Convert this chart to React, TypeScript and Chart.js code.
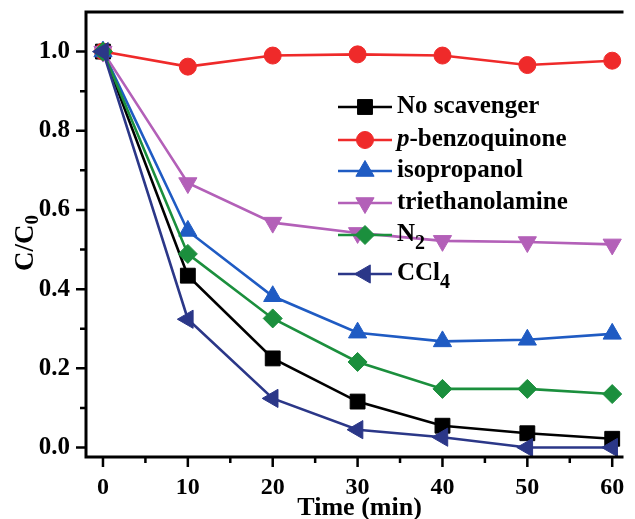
import { useEffect, useRef } from 'react';
import { Chart, registerables } from 'chart.js';
import { drawPoint } from 'chart.js/helpers';

Chart.register(...registerables);

// ---- data ----
const times = [0, 10, 20, 30, 40, 50, 60];
const noScavenger = [1.0, 0.434, 0.225, 0.116, 0.055, 0.036, 0.022];
const benzoquinone = [1.0, 0.962, 0.99, 0.993, 0.99, 0.966, 0.977];
const isopropanol = [1.0, 0.547, 0.382, 0.29, 0.268, 0.272, 0.287];
const triethanolamine = [1.0, 0.668, 0.568, 0.542, 0.522, 0.519, 0.513];
const nitrogen = [1.0, 0.489, 0.326, 0.216, 0.148, 0.148, 0.135];
const ccl4 = [1.0, 0.324, 0.124, 0.045, 0.026, 0.0, 0.0];

const seriesLabels = ['No scavenger', 'p-benzoquinone', 'isopropanol', 'triethanolamine', 'N2', 'CCl4'];
const legendParts = [
  [{ t: 'No scavenger' }],
  [{ t: 'p', italic: true }, { t: '-benzoquinone' }],
  [{ t: 'isopropanol' }],
  [{ t: 'triethanolamine' }],
  [{ t: 'N' }, { t: '2', sub: true }],
  [{ t: 'CCl' }, { t: '4', sub: true }],
];

const xTicks = [0, 10, 20, 30, 40, 50, 60];
const xTickLabels = ['0', '10', '20', '30', '40', '50', '60'];
const xMinorTicks = [5, 15, 25, 35, 45, 55];
const yTicks = [0, 0.2, 0.4, 0.6, 0.8, 1.0];
const yTickLabels = ['0.0', '0.2', '0.4', '0.6', '0.8', '1.0'];
const yMinorTicks = [0.1, 0.3, 0.5, 0.7, 0.9];
const xTitle = 'Time (min)';
const yTitleMain = 'C/C';
const yTitleSub = '0';

// ---- styles ----
const colors = ['#000000', '#ef2a2a', '#1f5bc3', '#b360b8', '#1b8f3d', '#2b3788'];
const pointStyles = ['rect', 'circle', 'triangle', 'triangle', 'rectRot', 'triangle'];
const pointRotations = [0, 0, 0, 180, 0, -90];
const pointRadii = [10.5, 8.5, 10.5, 10.5, 9.5, 10.5];

const FONT = '"Liberation Serif", "Times New Roman", serif';

const decorPlugin = {
  id: 'decor',
  afterDatasetsDraw(chart: any) {
    const ctx = chart.ctx;
    const { left, right, top, bottom } = chart.chartArea;
    const xs = chart.scales.x;
    const ys = chart.scales.y;
    ctx.save();
    ctx.strokeStyle = '#000';
    ctx.lineCap = 'butt';
    // frame (left, top, bottom)
    ctx.lineWidth = 3;
    ctx.beginPath();
    ctx.moveTo(right, top);
    ctx.lineTo(left, top);
    ctx.lineTo(left, bottom);
    ctx.lineTo(right, bottom);
    ctx.stroke();
    // ticks
    ctx.lineWidth = 2.5;
    ctx.beginPath();
    xTicks.forEach((v) => {
      const px = xs.getPixelForValue(v);
      ctx.moveTo(px, bottom);
      ctx.lineTo(px, bottom + 10);
    });
    xMinorTicks.forEach((v) => {
      const px = xs.getPixelForValue(v);
      ctx.moveTo(px, bottom);
      ctx.lineTo(px, bottom + 6);
    });
    yTicks.forEach((v) => {
      const py = ys.getPixelForValue(v);
      ctx.moveTo(left, py);
      ctx.lineTo(left - 10, py);
    });
    yMinorTicks.forEach((v) => {
      const py = ys.getPixelForValue(v);
      ctx.moveTo(left, py);
      ctx.lineTo(left - 6, py);
    });
    ctx.stroke();

    // legend
    const rowY = [107, 140, 171, 203, 235, 274];
    chart.data.datasets.forEach((ds: any, i: number) => {
      const y = rowY[i];
      ctx.strokeStyle = ds.borderColor;
      ctx.lineWidth = 2.6;
      ctx.beginPath();
      ctx.moveTo(338, y);
      ctx.lineTo(392, y);
      ctx.stroke();
      ctx.fillStyle = ds.backgroundColor;
      ctx.strokeStyle = ds.borderColor;
      ctx.lineWidth = 1;
      drawPoint(ctx, { pointStyle: ds.pointStyle, rotation: ds.pointRotation, radius: ds.pointRadius, borderWidth: 1 }, 365, y);
      let x = 397;
      ctx.fillStyle = '#000';
      ctx.textAlign = 'left';
      ctx.textBaseline = 'middle';
      legendParts[i].forEach((p: any) => {
        if (p.sub) {
          ctx.font = `bold 20px ${FONT}`;
          ctx.fillText(p.t, x, y + 9);
        } else {
          ctx.font = `${p.italic ? 'italic ' : ''}bold 25px ${FONT}`;
          ctx.fillText(p.t, x, y);
        }
        x += ctx.measureText(p.t).width;
      });
    });

    // axis titles
    ctx.fillStyle = '#000';
    ctx.font = `bold 26px ${FONT}`;
    ctx.textAlign = 'center';
    ctx.textBaseline = 'alphabetic';
    ctx.fillText(xTitle, xs.getPixelForValue(30) + 2, 515);

    ctx.translate(33, 243);
    ctx.rotate(-Math.PI / 2);
    ctx.textAlign = 'left';
    ctx.font = `bold 27px ${FONT}`;
    const wMain = ctx.measureText(yTitleMain).width;
    ctx.font = `bold 19px ${FONT}`;
    const wSub = ctx.measureText(yTitleSub).width;
    const start = -(wMain + wSub) / 2;
    ctx.font = `bold 27px ${FONT}`;
    ctx.fillText(yTitleMain, start, 0);
    ctx.font = `bold 19px ${FONT}`;
    ctx.fillText(yTitleSub, start + wMain, 5);
    ctx.restore();
  },
};

export default function App() {
  const ref = useRef<HTMLCanvasElement | null>(null);
  useEffect(() => {
    if (!ref.current) return;
    const series = [noScavenger, benzoquinone, isopropanol, triethanolamine, nitrogen, ccl4];
    const chart = new Chart(ref.current, {
      type: 'line',
      data: {
        datasets: series.map((vals, i) => ({
          label: seriesLabels[i],
          data: times.map((t, j) => ({ x: t, y: vals[j] })),
          borderColor: colors[i],
          backgroundColor: colors[i],
          pointBackgroundColor: colors[i],
          pointBorderColor: colors[i],
          borderWidth: 2.6,
          pointStyle: pointStyles[i],
          pointRotation: pointRotations[i],
          pointRadius: pointRadii[i],
          pointBorderWidth: 1,
          tension: 0,
          clip: false,
          order: 10 - i,
        })),
      },
      options: {
        animation: false,
        responsive: false,
        events: [],
        layout: { padding: { top: 12, left: 0, right: 0, bottom: 0 } },
        plugins: { legend: { display: false }, tooltip: { enabled: false } },
        scales: {
          x: {
            type: 'linear',
            min: -2,
            max: 61.33,
            grid: { display: false },
            border: { display: false },
            afterBuildTicks: (s: any) => { s.ticks = xTicks.map((v) => ({ value: v })); },
            afterFit: (s: any) => { s.height = 62; s.paddingLeft = 0; s.paddingRight = 0; },
            ticks: {
              padding: 8,
              color: '#000',
              maxRotation: 0,
              autoSkip: false,
              font: { family: FONT, size: 24, weight: 'bold' },
              callback: (_v: any, i: number) => xTickLabels[i],
            },
          },
          y: {
            type: 'linear',
            min: -0.024,
            max: 1.1,
            grid: { display: false },
            border: { display: false },
            afterBuildTicks: (s: any) => { s.ticks = yTicks.map((v) => ({ value: v })); },
            afterFit: (s: any) => { s.width = 86; s.paddingTop = 0; s.paddingBottom = 0; },
            ticks: {
              padding: 8,
              color: '#000',
              autoSkip: false,
              font: { family: FONT, size: 25, weight: 'bold' },
              callback: (_v: any, i: number) => yTickLabels[i],
            },
          },
        },
      },
      plugins: [decorPlugin],
    } as any);
    return () => chart.destroy();
  }, []);
  return (
    <div style={{ position: 'absolute', left: 0, top: 0, width: 635, height: 519, background: '#fff' }}>
      <canvas ref={ref} width={635} height={519} style={{ display: 'block' }} />
    </div>
  );
}
